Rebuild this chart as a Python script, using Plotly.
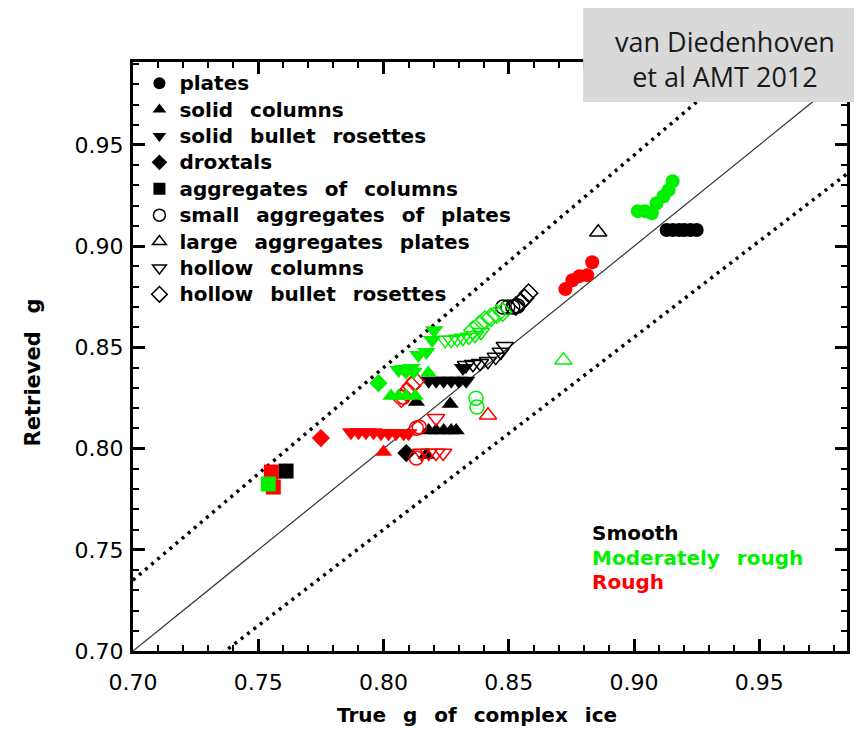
import plotly.graph_objects as go

# ---- retrieved vs. true asymmetry parameter for complex ice habits ----
# colours mark the surface roughness of each habit model
roughness_names = ["Smooth", "Moderately rough", "Rough"]
roughness_colors = ["#000000", "#00f000", "#ff0000"]

habit_names = [
    "plates", "solid columns", "solid bullet rosettes", "droxtals",
    "aggregates of columns", "small aggregates of plates",
    "large aggregates plates", "hollow columns", "hollow bullet rosettes",
]
habit_symbols = [
    "circle", "triangle-up", "triangle-down", "diamond", "square",
    "circle-open", "triangle-up-open", "triangle-down-open", "diamond-open",
]

# plates
plates_smooth_x = [0.913, 0.9155, 0.918, 0.920, 0.9225, 0.925]
plates_smooth_y = [0.908, 0.908, 0.908, 0.908, 0.908, 0.908]
plates_moderate_x = [0.9015, 0.9043, 0.9071, 0.909, 0.9118, 0.9138, 0.9154]
plates_moderate_y = [0.9173, 0.9173, 0.9163, 0.9212, 0.9247, 0.9277, 0.9321]
plates_rough_x = [0.8726, 0.8754, 0.8782, 0.8813, 0.8833]
plates_rough_y = [0.8788, 0.8832, 0.8852, 0.8857, 0.8921]

# solid columns
solidcol_smooth_x = [0.8131, 0.8266, 0.818, 0.821, 0.824, 0.827, 0.829, 0.817]
solidcol_smooth_y = [0.823, 0.822, 0.809, 0.809, 0.809, 0.809, 0.809, 0.7968]
solidcol_moderate_x = [0.8179, 0.803, 0.806, 0.809, 0.8127]
solidcol_moderate_y = [0.8373, 0.826, 0.826, 0.826, 0.826]
solidcol_rough_x = [0.800]
solidcol_rough_y = [0.7983]

# solid bullet rosettes
solidbr_smooth_x = [0.8317, 0.818, 0.821, 0.824, 0.827, 0.830, 0.833]
solidbr_smooth_y = [0.8398, 0.8335, 0.8335, 0.8335, 0.8335, 0.8335, 0.8335]
solidbr_moderate_x = [0.8202, 0.8194, 0.8171, 0.8139, 0.8111, 0.8079, 0.806,
                      0.809, 0.812]
solidbr_moderate_y = [0.8585, 0.8536, 0.8477, 0.8462, 0.8398, 0.8393, 0.8388,
                      0.838, 0.838]
solidbr_rough_x = [0.787, 0.790, 0.793, 0.796, 0.799, 0.802, 0.805, 0.808, 0.810]
solidbr_rough_y = [0.8081, 0.8081, 0.8081, 0.8081, 0.8076, 0.8076, 0.8076,
                   0.8076, 0.8076]

# droxtals
droxtal_smooth_x = [0.8091]
droxtal_smooth_y = [0.7978]
droxtal_moderate_x = [0.798]
droxtal_moderate_y = [0.8323]
droxtal_rough_x = [0.775]
droxtal_rough_y = [0.8052]

# aggregates of columns
aggcol_smooth_x = [0.7611]
aggcol_smooth_y = [0.7889]
aggcol_moderate_x = [0.7540]
aggcol_moderate_y = [0.7825]
aggcol_rough_x = [0.7552, 0.7560]
aggcol_rough_y = [0.7884, 0.7810]

# small aggregates of plates
smallagg_smooth_x = [0.8476, 0.8496, 0.8516, 0.8536]
smallagg_smooth_y = [0.8699, 0.8699, 0.8699, 0.8704]
smallagg_moderate_x = [0.8369, 0.8373]
smallagg_moderate_y = [0.8249, 0.8205]
smallagg_rough_x = [0.8131, 0.8143, 0.8131, 0.8079]
smallagg_rough_y = [0.8101, 0.8106, 0.7953, 0.8254]

# large aggregates plates
largeagg_smooth_x = [0.8857]
largeagg_smooth_y = [0.9069]
largeagg_moderate_x = [0.8718]
largeagg_moderate_y = [0.8437]
largeagg_rough_x = [0.8417]
largeagg_rough_y = [0.8165]

# hollow columns
hollowcol_smooth_x = [0.8329, 0.8357, 0.8385, 0.8417, 0.8448, 0.8468, 0.8484]
hollowcol_smooth_y = [0.8412, 0.8417, 0.8422, 0.8432, 0.8452, 0.8477, 0.8506]
hollowcol_moderate_x = [0.8246, 0.827, 0.8294, 0.8317, 0.8341, 0.8365, 0.8389]
hollowcol_moderate_y = [0.8536, 0.8536, 0.8541, 0.8546, 0.8551, 0.8560, 0.8575]
hollowcol_rough_x = [0.821, 0.8151, 0.818, 0.821, 0.8238]
hollowcol_rough_y = [0.815, 0.7978, 0.7978, 0.7978, 0.7978]

# hollow bullet rosettes
hollowbr_smooth_x = [0.8528, 0.8548, 0.8563, 0.8579]
hollowbr_smooth_y = [0.8704, 0.8723, 0.8743, 0.8768]
hollowbr_moderate_x = [0.8357, 0.8381, 0.8405, 0.8429, 0.8452, 0.8476]
hollowbr_moderate_y = [0.8585, 0.8610, 0.8635, 0.8649, 0.8664, 0.8674]
hollowbr_rough_x = [0.8071, 0.8091, 0.8111, 0.8127]
hollowbr_rough_y = [0.8249, 0.8279, 0.8309, 0.8333]

habit_data = [
    [(plates_smooth_x, plates_smooth_y), (plates_moderate_x, plates_moderate_y),
     (plates_rough_x, plates_rough_y)],
    [(solidcol_smooth_x, solidcol_smooth_y), (solidcol_moderate_x, solidcol_moderate_y),
     (solidcol_rough_x, solidcol_rough_y)],
    [(solidbr_smooth_x, solidbr_smooth_y), (solidbr_moderate_x, solidbr_moderate_y),
     (solidbr_rough_x, solidbr_rough_y)],
    [(droxtal_smooth_x, droxtal_smooth_y), (droxtal_moderate_x, droxtal_moderate_y),
     (droxtal_rough_x, droxtal_rough_y)],
    [(aggcol_smooth_x, aggcol_smooth_y), (aggcol_moderate_x, aggcol_moderate_y),
     (aggcol_rough_x, aggcol_rough_y)],
    [(smallagg_smooth_x, smallagg_smooth_y), (smallagg_moderate_x, smallagg_moderate_y),
     (smallagg_rough_x, smallagg_rough_y)],
    [(largeagg_smooth_x, largeagg_smooth_y), (largeagg_moderate_x, largeagg_moderate_y),
     (largeagg_rough_x, largeagg_rough_y)],
    [(hollowcol_smooth_x, hollowcol_smooth_y), (hollowcol_moderate_x, hollowcol_moderate_y),
     (hollowcol_rough_x, hollowcol_rough_y)],
    [(hollowbr_smooth_x, hollowbr_smooth_y), (hollowbr_moderate_x, hollowbr_moderate_y),
     (hollowbr_rough_x, hollowbr_rough_y)],
]
habit_sizes = [14, 15, 16, 14, 15, 14, 15, 15, 14]

# reference lines: 1:1 and +/-5 %
line_x = [0.70, 0.99]
ratio_upper = 1.05
ratio_lower = 0.95

x_range = [0.70, 0.985]
y_range = [0.70, 0.991]
tick_values = [0.70, 0.75, 0.80, 0.85, 0.90, 0.95]
tick_labels = ["0.70", "0.75", "0.80", "0.85", "0.90", "0.95"]

WIDE = "\u2002 "  # wide gap between words, like the vector font


def wide(text):
    return text.replace(" ", WIDE)


fig = go.Figure()

fig.add_trace(go.Scatter(x=line_x, y=line_x, mode="lines",
                         line=dict(color="#333333", width=1.2), showlegend=False,
                         hoverinfo="skip"))
for r in (ratio_upper, ratio_lower):
    fig.add_trace(go.Scatter(x=line_x, y=[v * r for v in line_x], mode="lines",
                             line=dict(color="black", width=3.5, dash="3px,5px"),
                             showlegend=False, hoverinfo="skip"))

# drawing order: smooth first, then rough, moderately rough on top
for ri in (0, 2, 1):
    for hi, name in enumerate(habit_names):
        xs, ys = habit_data[hi][ri]
        sym = habit_symbols[hi]
        marker = dict(symbol=sym, size=habit_sizes[hi], color=roughness_colors[ri],
                      line=dict(width=1.5 if "open" in sym else 0,
                                color=roughness_colors[ri]))
        fig.add_trace(go.Scatter(x=xs, y=ys, mode="markers", marker=marker,
                                 name=f"{name} ({roughness_names[ri]})",
                                 showlegend=False))

# black legend keys for the habit symbols
for hi, name in enumerate(habit_names):
    sym = habit_symbols[hi]
    fig.add_trace(go.Scatter(
        x=[None], y=[None], mode="markers",
        name=f'<span style="font-size:20px"><b>{wide(name)}</b></span>',
        marker=dict(symbol=sym, size=12, color="black",
                    line=dict(width=1.5 if "open" in sym else 0, color="black"))))

axis_common = dict(
    showline=True, linewidth=3, linecolor="black", mirror="ticks",
    ticks="inside", ticklen=12, tickwidth=2.5, tickcolor="black",
    tickvals=tick_values, ticktext=tick_labels, showgrid=False, zeroline=False,
    tickfont=dict(family="DejaVu Sans", size=22, color="black"),
    minor=dict(dtick=0.01, ticks="inside", ticklen=6, tickwidth=2, tickcolor="black",
               showgrid=False),
)

fig.update_xaxes(**axis_common, range=x_range, ticklabelstandoff=10)
fig.update_yaxes(**axis_common, range=y_range, ticklabelstandoff=2)

# axis titles
fig.add_annotation(xref="paper", yref="paper", x=(478 - 133) / 717, y=-(715 - 651) / 589,
                   xanchor="center", yanchor="middle", showarrow=False,
                   text=f"<b>{wide('True g of complex ice')}</b>",
                   font=dict(family="DejaVu Sans", size=20, color="black"))
fig.add_annotation(xref="paper", yref="paper", x=-(133 - 33) / 717, y=(651 - 372) / 589,
                   xanchor="center", yanchor="middle", showarrow=False, textangle=-90,
                   text=f"<b>{wide('Retrieved g')}</b>",
                   font=dict(family="DejaVu Sans", size=21, color="black"))

for ri, name in enumerate(roughness_names):
    fig.add_annotation(xref="paper", yref="paper", x=(592 - 133) / 717,
                       y=(651 - 533) / 589 - ri * 0.0416,
                       xanchor="left", yanchor="middle", showarrow=False,
                       text=f"<b>{wide(name)}</b>",
                       font=dict(family="DejaVu Sans", size=20,
                                 color=roughness_colors[ri]))

# citation box
fig.add_shape(type="rect", xref="paper", yref="paper", x0=(585 - 133) / 717,
              x1=1.01, y0=(651 - 102) / 589, y1=(651 - 8) / 589,
              fillcolor="#d9d9d9", line=dict(width=0), layer="above")
fig.add_annotation(xref="paper", yref="paper", x=(727 - 133) / 717,
                   y=(651 - 59) / 589, xanchor="center",
                   yanchor="middle", showarrow=False, align="center",
                   text="van Diedenhoven<br>et al AMT 2012",
                   font=dict(family="Open Sans", size=27, color="#1a1a1a"))

fig.update_layout(
    width=854, height=732,
    margin=dict(l=133, r=4, t=62, b=81),
    plot_bgcolor="white", paper_bgcolor="white",
    legend=dict(x=0.009, y=0.995, xanchor="left", yanchor="top",
                bgcolor="rgba(0,0,0,0)", itemwidth=30,
                font=dict(family="DejaVu Sans", size=18, color="black"),
                tracegroupgap=0),
)

fig.write_html("out.html")
